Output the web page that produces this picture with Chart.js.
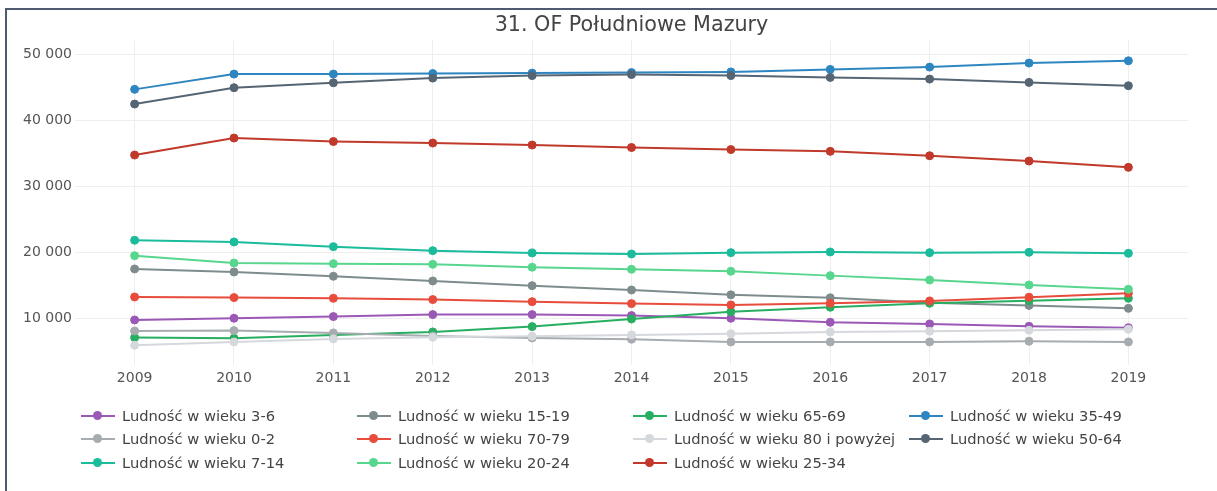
<!DOCTYPE html>
<html>
<head>
<meta charset="utf-8">
<script src="https://cdn.jsdelivr.net/npm/chart.js@4.4.0/dist/chart.umd.min.js"></script>
<style>
  html, body { margin: 0; padding: 0; background: #fff; overflow: hidden; width: 1217px; height: 491px; }
  #frame { position: absolute; left: 5px; top: 8px; width: 1400px; height: 700px; border: 2px solid #4d5a70; box-sizing: border-box; }
  #wrap { position: absolute; left: 0; top: 0; width: 1217px; height: 400px; }
  #legend { position: absolute; left: 0; top: 0; width: 1217px; height: 491px; pointer-events: none; }
  .item { position: absolute; height: 20px; font-family: "DejaVu Sans", sans-serif; font-size: 14.7px; color: #444; white-space: nowrap; }
  .sym { position: absolute; left: 0; top: 9px; width: 34px; height: 2px; }
  .dot { position: absolute; left: 12px; top: 5px; width: 9px; height: 9px; border-radius: 50%; }
  .txt { position: absolute; left: 41px; top: 0; line-height: 20px; }
</style>
</head>
<body>
<div id="frame"></div>
<div id="wrap"><canvas id="c" width="1217" height="400"></canvas></div>
<div id="legend"></div>
<script>
const chartTitle = "31. OF Południowe Mazury";
const years = [2009, 2010, 2011, 2012, 2013, 2014, 2015, 2016, 2017, 2018, 2019];
const yTicks = [10000, 20000, 30000, 40000, 50000];

const seriesNames = [
  "Ludność w wieku 3-6",
  "Ludność w wieku 15-19",
  "Ludność w wieku 65-69",
  "Ludność w wieku 35-49",
  "Ludność w wieku 0-2",
  "Ludność w wieku 70-79",
  "Ludność w wieku 80 i powyżej",
  "Ludność w wieku 50-64",
  "Ludność w wieku 7-14",
  "Ludność w wieku 20-24",
  "Ludność w wieku 25-34"
];

const age3_6   = [9740, 10000, 10250, 10550, 10550, 10400, 10000, 9390, 9130, 8780, 8570];
const age15_19 = [17480, 17030, 16370, 15660, 14950, 14290, 13550, 13100, 12350, 11950, 11500];
const age65_69 = [7060, 6960, 7470, 7920, 8730, 9890, 11000, 11670, 12270, 12670, 13030];
const age35_49 = [44750, 47070, 47070, 47150, 47220, 47300, 47400, 47780, 48130, 48740, 49090];
const age0_2   = [8070, 8120, 7770, 7310, 7010, 6810, 6400, 6400, 6400, 6510, 6400];
const age70_79 = [13230, 13130, 13030, 12830, 12520, 12220, 12020, 12270, 12630, 13190, 13790];
const age80    = [5900, 6400, 6860, 7110, 7270, 7470, 7660, 7920, 8020, 8170, 8330];
const age50_64 = [42520, 45000, 45750, 46460, 46840, 47000, 46840, 46570, 46310, 45810, 45300];
const age7_14  = [21840, 21580, 20870, 20260, 19910, 19760, 19960, 20060, 19960, 20010, 19860];
const age20_24 = [19500, 18390, 18290, 18190, 17740, 17430, 17130, 16470, 15810, 15050, 14400];
const age25_34 = [34780, 37360, 36830, 36600, 36300, 35920, 35610, 35340, 34670, 33870, 32910];

const seriesValues = [age3_6, age15_19, age65_69, age35_49, age0_2, age70_79, age80, age50_64, age7_14, age20_24, age25_34];
const seriesColors = ["#9b59b6", "#7f8c8d", "#27ae60", "#2e86c1", "#a6acaf", "#e74c3c", "#d5d8dc", "#566573", "#1abc9c", "#58d68d", "#c0392b"];

function fmt(v) { return String(v).replace(/\B(?=(\d{3})+(?!\d))/g, " "); }

const datasets = seriesNames.map((name, i) => ({
  label: name,
  data: years.map((yr, j) => ({ x: yr, y: seriesValues[i][j] })),
  borderColor: seriesColors[i],
  backgroundColor: seriesColors[i],
  pointBackgroundColor: seriesColors[i],
  pointBorderColor: seriesColors[i],
  borderWidth: 2,
  pointRadius: 4,
  pointBorderWidth: 1,
  tension: 0,
  fill: false,
  order: -i
}));

const FONT = "DejaVu Sans";
new Chart(document.getElementById("c"), {
  type: "line",
  data: { datasets },
  options: {
    responsive: false,
    animation: false,
    devicePixelRatio: 1,
    layout: { padding: { left: 0, right: 29, top: 0, bottom: 5 } },
    plugins: {
      legend: { display: false },
      tooltip: { enabled: false },
      title: {
        display: true,
        fullSize: false,
        text: chartTitle,
        color: "#444",
        font: { family: FONT, size: 20.7, weight: "normal" },
        padding: { top: 13, bottom: 2 }
      }
    },
    scales: {
      x: {
        type: "linear",
        min: 2008.4,
        max: 2019.6,
        afterBuildTicks: (s) => { s.ticks = years.map(v => ({ value: v })); },
        afterFit: (s) => { s.height = 30; },
        grid: { color: "#eeeeee", drawTicks: false, lineWidth: 1 },
        border: { display: false },
        ticks: { color: "#555", font: { family: FONT, size: 14 }, padding: 5, callback: (v) => String(v), maxRotation: 0 }
      },
      y: {
        min: 2900,
        max: 52270,
        afterBuildTicks: (s) => { s.ticks = yTicks.map(v => ({ value: v })); },
        afterFit: (s) => { s.width = 75; },
        grid: { color: "#eeeeee", drawTicks: false, lineWidth: 1 },
        border: { display: false },
        ticks: { color: "#555", font: { family: FONT, size: 14 }, padding: 3, callback: (v) => fmt(v) }
      }
    }
  }
});

// HTML legend (4 columns, row-major)
const legend = document.getElementById("legend");
seriesNames.forEach((name, i) => {
  const col = i % 4, row = Math.floor(i / 4);
  const el = document.createElement("div");
  el.className = "item";
  el.style.left = (81 + col * 276) + "px";
  el.style.top = (406 + row * 23.3) + "px";
  el.innerHTML = '<div class="sym" style="background:' + seriesColors[i] + '"></div>' +
                 '<div class="dot" style="background:' + seriesColors[i] + '"></div>' +
                 '<div class="txt">' + name + '</div>';
  legend.appendChild(el);
});
</script>
</body>
</html>
